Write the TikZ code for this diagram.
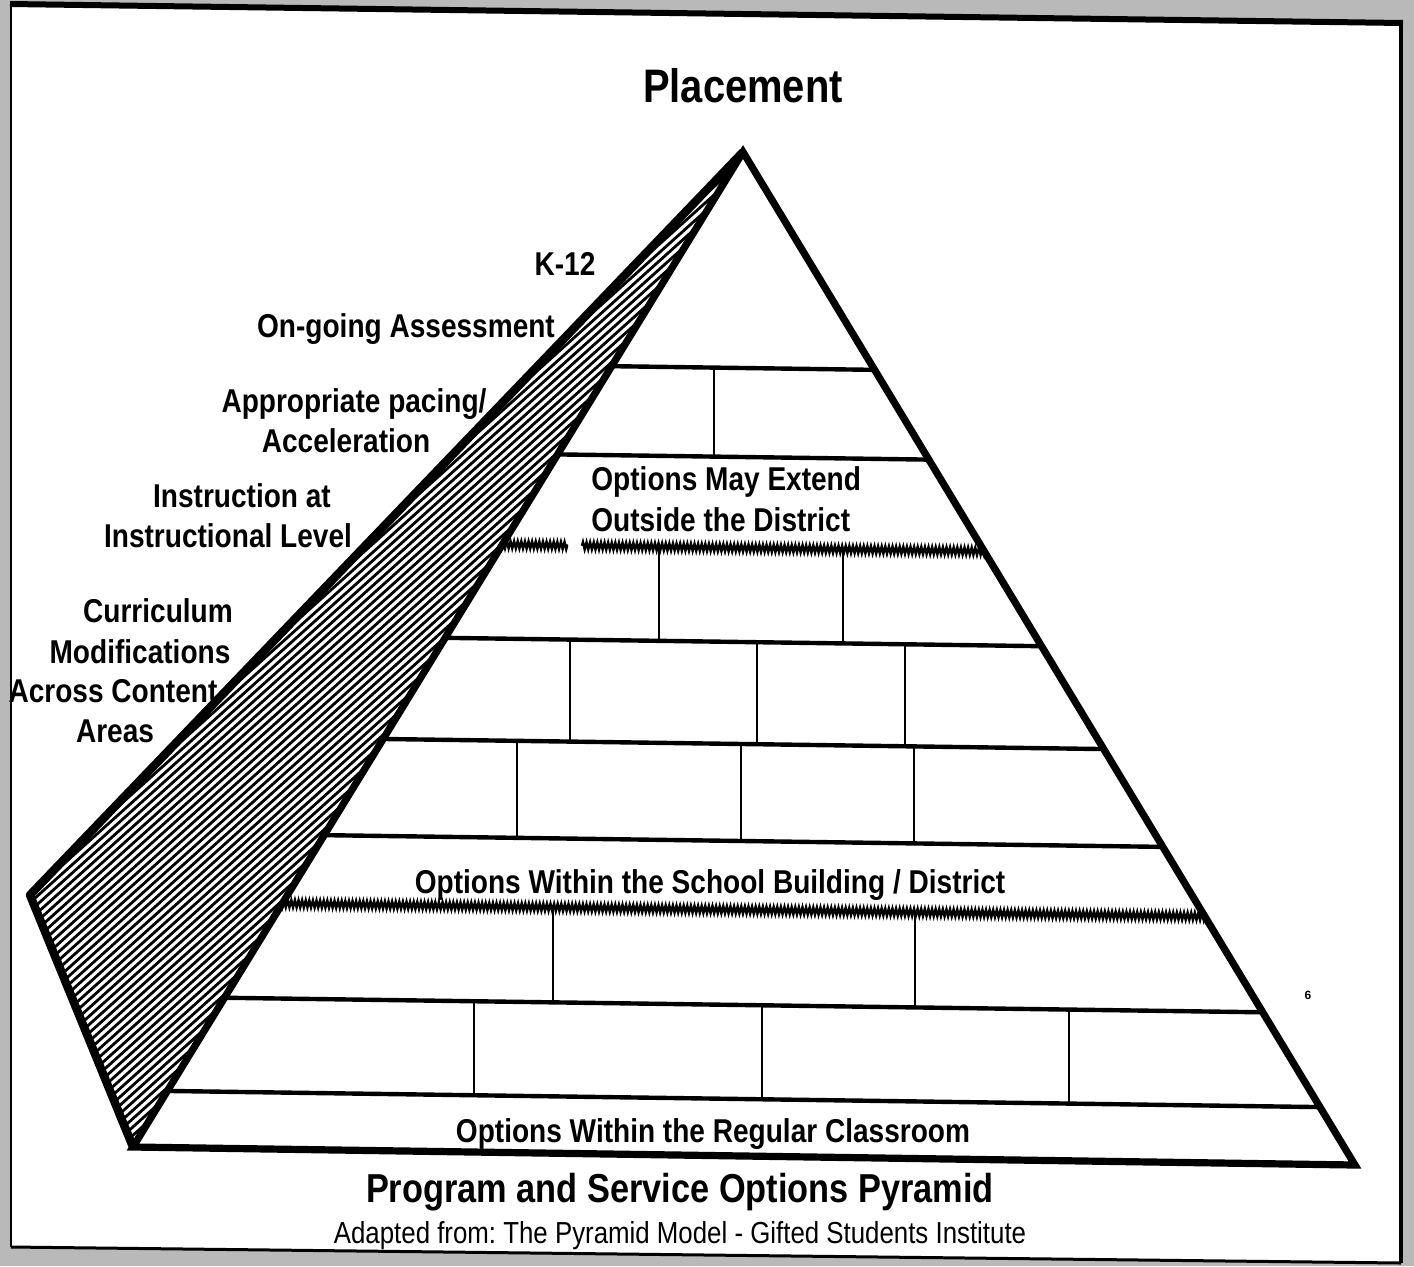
\documentclass[tikz,border=0pt]{standalone}
\usepackage{fontspec}
\usepackage{graphicx}
\setmainfont{Liberation Sans}
\usetikzlibrary{decorations.pathmorphing}
\frenchspacing
% narrow the letters the way a condensed face does
\newcommand\cnd[1]{\scalebox{0.85}[1]{#1}}

\begin{document}
\begin{tikzpicture}[x=0.5pt,y=-0.5pt,
  outline/.style={line width=3.6pt, line join=miter},
  sideedge/.style={line width=4.2pt, line join=round},
  course/.style={line width=2.2pt},
  joint/.style={line width=1.4pt},
  seam/.style={line width=1.2pt, decorate,
    decoration={zigzag, segment length=1.8pt, amplitude=1.8pt}},
  hatch/.style={line width=1.4pt},
  lab/.style={font=\bfseries\fontsize{16.5}{18}\selectfont,
    inner sep=0pt, anchor=base},
  labw/.style={lab, anchor=base west},
]
% page edges of the sheet
\useasboundingbox (0,0) rectangle (1414,1266);
\fill[gray!55] (0,0) rectangle (1414,1266);
\fill[white] (12,6) -- (1401,24) -- (1401,1263) -- (12,1246) -- cycle;
\draw[line width=3pt] (10,4) -- (1403,23);
\draw[line width=1.2pt] (11,5) -- (11,1247);
\draw[line width=1.6pt] (1401,23) -- (1401,1263);
\draw[line width=1.5pt] (11,1247) -- (1401,1263);

% corners of the pyramid
\coordinate (apex) at (743,152);
\coordinate (bl) at (133,1147);
\coordinate (br) at (1355,1165);
\coordinate (back) at (30,895);

% hatched side face
\begin{scope}
  \clip (apex) -- (back) -- (bl) -- cycle;
  \foreach \c in {598,604.2,...,956}
    \draw[hatch] ({\c*0.669-1500*0.743},{\c*0.743+1500*0.669})
              -- ({\c*0.669+1500*0.743},{\c*0.743-1500*0.669});
\end{scope}

% courses and joints of the front face
\begin{scope}
  \clip (apex) -- (br) -- (bl) -- cycle;
  \foreach \yc in {368,457,642,744,841,1005,1099}
    \draw[course] (0,{\yc-0.014*743}) -- (1414,{\yc+0.014*671});
  \draw[seam] (380,{548+0.014*(380-743)}) -- (568,{548+0.014*(568-743)});
  \draw[seam] (582,{548+0.014*(582-743)}) -- (1100,{548+0.014*(1100-743)});
  \draw[seam] (150,{910+0.014*(150-743)}) -- (1300,{910+0.014*(1300-743)});
  \foreach \x/\ya/\yb in {714/368/457, 659/548/642, 843/548/642,
      570/642/744, 757/642/744, 905/642/744,
      517/744/841, 741/744/841, 914/744/841,
      553/910/1005, 915/910/1005,
      474/1005/1099, 762/1005/1099, 1069/1005/1099}
    \draw[joint] (\x,{\ya+0.014*(\x-743)}) -- (\x,{\yb+0.014*(\x-743)});
\end{scope}

% outlines
\draw[sideedge] (apex) -- (back) -- (bl);
\draw[outline] (apex) -- (br) -- (bl) -- cycle;

% heading
\node[lab, font=\bfseries\fontsize{23.5}{26}\selectfont] (placement) at (743,102) {\cnd{Placement}};

% labels along the side face
\node[lab] (k12) at (565,275) {\cnd{K-12}};
\node[lab] (assess) at (406,337) {\cnd{On-going Assessment}};
\node[lab] (pacing) at (354,412) {\cnd{Appropriate pacing/}};
\node[lab] (accel) at (346,452) {\cnd{Acceleration}};
\node[lab] (instr) at (242,507) {\cnd{Instruction at}};
\node[lab] (level) at (228,547) {\cnd{Instructional Level}};
\node[lab] (curr) at (158,622) {\cnd{Curriculum}};
\node[lab] (modif) at (140,663) {\cnd{Modifications}};
\node[lab] (across) at (113,702) {\cnd{Across Content}};
\node[lab] (areas) at (115,742) {\cnd{Areas}};

% labels inside the pyramid
\node[labw] (extend) at (591,490) {\cnd{Options May Extend}};
\node[labw] (outside) at (591,531) {\cnd{Outside the District}};
\node[lab] (school) at (710,893) {\cnd{Options Within the School Building / District}};
\node[lab] (regular) at (713,1142) {\cnd{Options Within the Regular Classroom}};

% caption
\node[lab, font=\bfseries\fontsize{20.2}{22}\selectfont] (caption) at (680,1202) {\cnd{Program and Service Options Pyramid}};
\node[lab, font=\fontsize{15.2}{17}\selectfont] (source) at (680,1243) {\cnd{Adapted from: The Pyramid Model - Gifted Students Institute}};

% page mark
\node[font=\bfseries\fontsize{6}{6}\selectfont, inner sep=0pt] (mark) at (1308,995) {6};
\end{tikzpicture}
\end{document}
